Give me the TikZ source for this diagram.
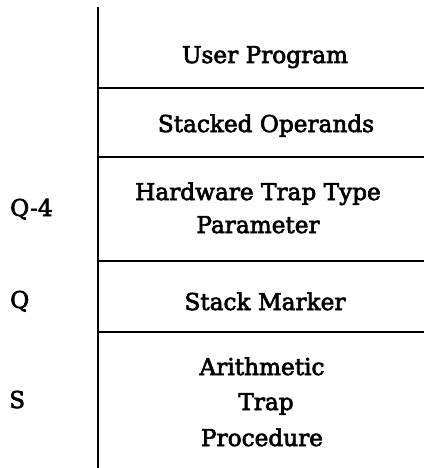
\documentclass[tikz,border=0pt]{standalone}
\usepackage{fontspec}
\setmainfont{DejaVu Serif}[FakeBold=2.8]
\begin{document}
\begin{tikzpicture}[x=1pt,y=-1pt,
  rule/.style={line width=2.3pt},
  cell/.style={anchor=base,inner sep=0pt,font=\fontsize{23.2}{27}\selectfont},
  addr/.style={anchor=base west,inner sep=0pt,font=\fontsize{23.2}{27}\selectfont}]
\useasboundingbox (0,0) rectangle (424,468);
\coordinate (vtop) at (98,7);
\coordinate (vbot) at (98,468);
\draw[rule] (vtop) -- (vbot);
\foreach \yy/\nm in {88/a,157/b,261/c,332/d}{
  \coordinate (l\nm) at (98,\yy);
  \coordinate (r\nm) at (424,\yy);
  \draw[rule] (l\nm) -- (r\nm);
}
\node[cell] (up) at (265,63) {User Program};
\node[cell] (so) at (266,132) {Stacked Operands};
\node[cell] (hw) at (258,200) {Hardware Trap Type};
\node[cell] (pa) at (258,233) {Parameter};
\node[cell] (sm) at (265,310) {Stack Marker};
\node[cell] (ar) at (262,375) {Arithmetic};
\node[cell] (tr) at (266,410) {Trap};
\node[cell] (pr) at (262,446) {Procedure};
\node[addr] (q4) at (10,216) {Q-4};
\node[addr] (q) at (10,308) {Q};
\node[addr] (s) at (9,408) {S};
\end{tikzpicture}
\end{document}
